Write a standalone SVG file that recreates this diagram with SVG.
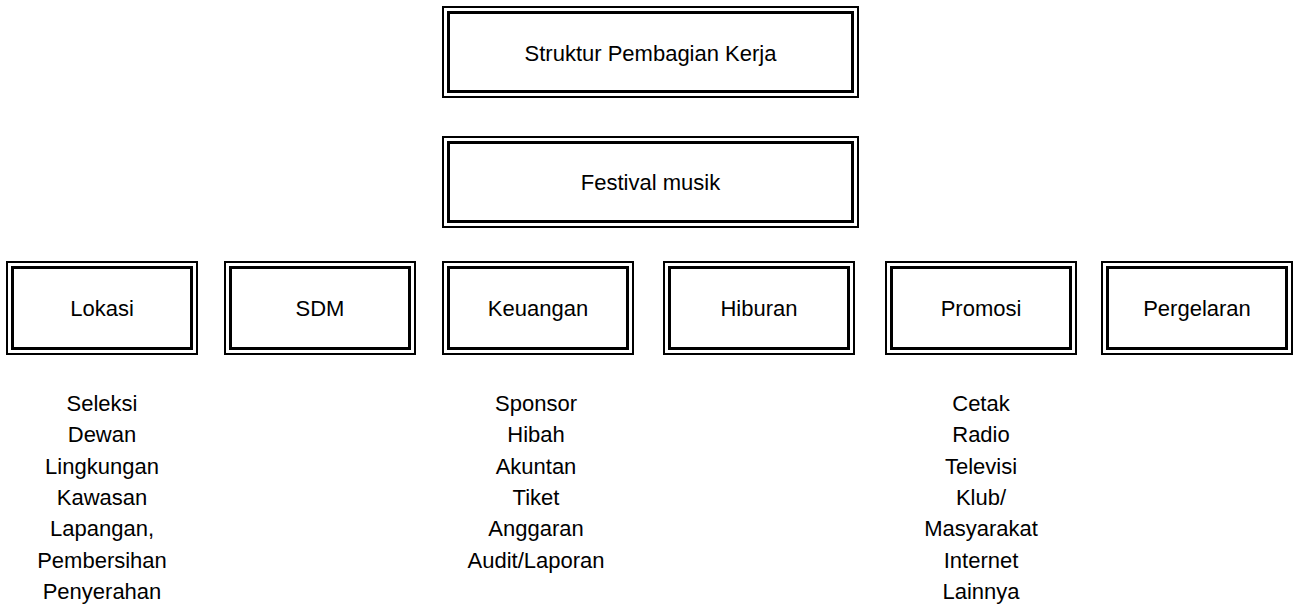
<svg xmlns="http://www.w3.org/2000/svg" width="1297" height="608" viewBox="0 0 1297 608">
<style>
.o{fill:#fff;stroke:#000;stroke-width:2}
.i{fill:none;stroke:#000;stroke-width:3}
text{font-family:"Liberation Sans",Arial,sans-serif;font-size:22px;fill:#000;text-anchor:middle}
</style>
<rect width="1297" height="608" fill="#fff"/>
<g id="connectors"></g>
<g id="n-struktur">
<rect class="o" x="443" y="7" width="415" height="90"/>
<rect class="i" x="448.5" y="12.5" width="404" height="79"/>
<text x="650.5" y="61">Struktur Pembagian Kerja</text>
</g>
<g id="n-festival">
<rect class="o" x="443" y="137" width="415" height="90"/>
<rect class="i" x="448.5" y="142.5" width="404" height="79"/>
<text x="650.5" y="190">Festival musik</text>
</g>
<g id="n-lokasi">
<rect class="o" x="7" y="262" width="190" height="92"/>
<rect class="i" x="12.5" y="267.5" width="179" height="81"/>
<text x="102" y="316">Lokasi</text>
</g>
<g id="n-sdm">
<rect class="o" x="225" y="262" width="190" height="92"/>
<rect class="i" x="230.5" y="267.5" width="179" height="81"/>
<text x="320" y="316">SDM</text>
</g>
<g id="n-keuangan">
<rect class="o" x="443" y="262" width="190" height="92"/>
<rect class="i" x="448.5" y="267.5" width="179" height="81"/>
<text x="538" y="316">Keuangan</text>
</g>
<g id="n-hiburan">
<rect class="o" x="664" y="262" width="190" height="92"/>
<rect class="i" x="669.5" y="267.5" width="179" height="81"/>
<text x="759" y="316">Hiburan</text>
</g>
<g id="n-promosi">
<rect class="o" x="886" y="262" width="190" height="92"/>
<rect class="i" x="891.5" y="267.5" width="179" height="81"/>
<text x="981" y="316">Promosi</text>
</g>
<g id="n-pergelaran">
<rect class="o" x="1102" y="262" width="190" height="92"/>
<rect class="i" x="1107.5" y="267.5" width="179" height="81"/>
<text x="1197" y="316">Pergelaran</text>
</g>
<g id="list-lokasi">
<text x="102" y="411">Seleksi</text>
<text x="102" y="442.3">Dewan</text>
<text x="102" y="473.6">Lingkungan</text>
<text x="102" y="504.9">Kawasan</text>
<text x="102" y="536.2">Lapangan,</text>
<text x="102" y="567.5">Pembersihan</text>
<text x="102" y="598.8">Penyerahan</text>
</g>
<g id="list-keuangan">
<text x="536" y="411">Sponsor</text>
<text x="536" y="442.3">Hibah</text>
<text x="536" y="473.6">Akuntan</text>
<text x="536" y="504.9">Tiket</text>
<text x="536" y="536.2">Anggaran</text>
<text x="536" y="567.5">Audit/Laporan</text>
</g>
<g id="list-promosi">
<text x="981" y="411">Cetak</text>
<text x="981" y="442.3">Radio</text>
<text x="981" y="473.6">Televisi</text>
<text x="981" y="504.9">Klub/</text>
<text x="981" y="536.2">Masyarakat</text>
<text x="981" y="567.5">Internet</text>
<text x="981" y="598.8">Lainnya</text>
</g>
</svg>
